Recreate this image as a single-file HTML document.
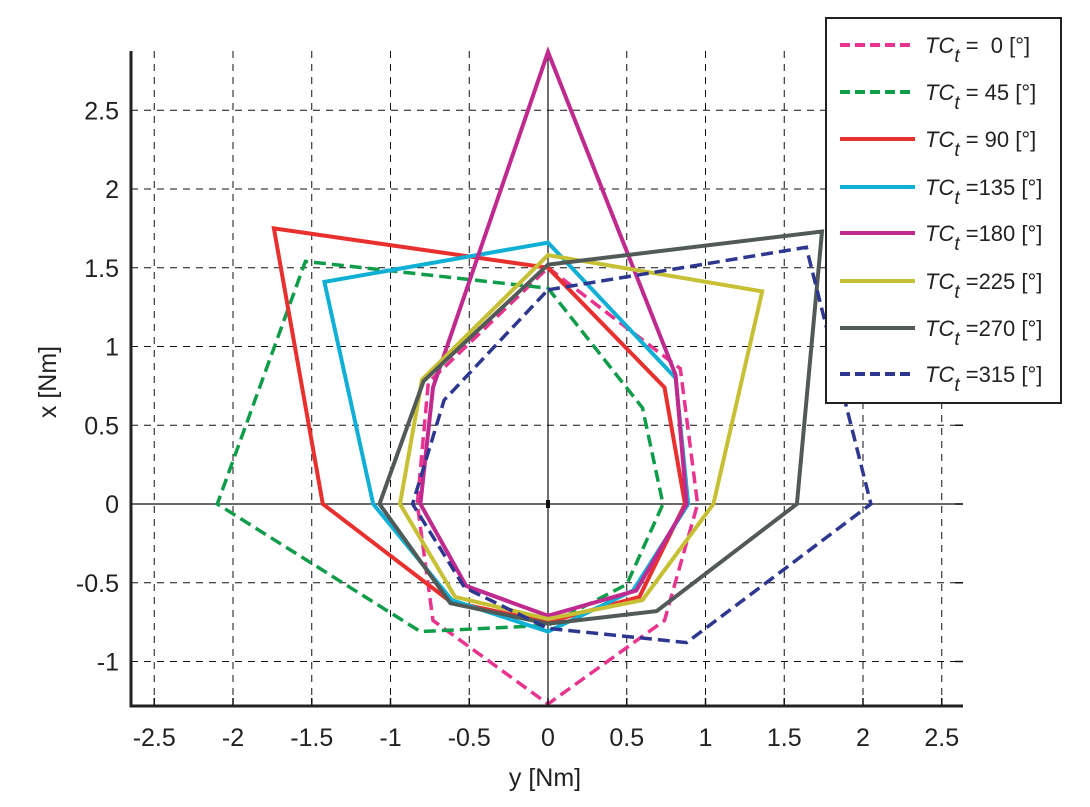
<!DOCTYPE html>
<html><head><meta charset="utf-8"><style>
body{margin:0;background:#fff;}
svg{display:block;font-family:"Liberation Sans",sans-serif;}
</style></head><body>
<svg id="chart" width="1090" height="807" viewBox="0 0 1090 807" xmlns="http://www.w3.org/2000/svg">
<g id="grid"></g>
<g id="series"></g>
<g id="axes"></g>
<text x="545" y="786" font-size="25" text-anchor="middle" fill="#222">y [Nm]</text>
<text transform="translate(56,382) rotate(-90)" font-size="25" text-anchor="middle" fill="#222">x [Nm]</text>
<g id="legend"></g>
</svg>
<script>
const xTicks=[-2.5,-2,-1.5,-1,-0.5,0,0.5,1,1.5,2,2.5];
const yTicks=[-1,-0.5,0,0.5,1,1.5,2,2.5];
const seriesNames=["0","45","90","135","180","225","270","315"];
const seriesColors=["#e8338f","#0f9d4a","#e8302e","#10afd6","#c02a8e","#c7c035","#525a58","#2e3790"];
const seriesDashed=[true,true,false,false,false,false,false,true];
// each series: [y,x] points, order top, upper-right, right, lower-right, bottom, lower-left, left, upper-left
const s0=[[0,1.5],[0.84,0.86],[0.95,0],[0.74,-0.74],[0,-1.27],[-0.73,-0.74],[-0.83,0],[-0.76,0.77]];
const s45=[[0,1.37],[0.6,0.61],[0.73,0],[0.5,-0.51],[0,-0.77],[-0.81,-0.81],[-2.1,0],[-1.54,1.54]];
const s90=[[0,1.5],[0.74,0.74],[0.87,0],[0.58,-0.59],[0,-0.75],[-0.62,-0.62],[-1.43,0],[-1.74,1.75]];
const s135=[[0,1.66],[0.81,0.8],[0.89,0],[0.54,-0.55],[0,-0.81],[-0.61,-0.61],[-1.11,0],[-1.42,1.41]];
const s180=[[0,2.87],[0.81,0.82],[0.88,0],[0.56,-0.55],[0,-0.71],[-0.52,-0.52],[-0.81,0],[-0.73,0.74]];
const s225=[[0,1.58],[1.36,1.35],[1.05,0],[0.6,-0.61],[0,-0.73],[-0.59,-0.59],[-0.94,0],[-0.8,0.79]];
const s270=[[0,1.52],[1.74,1.73],[1.58,0],[0.69,-0.68],[0,-0.76],[-0.62,-0.63],[-1.07,0],[-0.79,0.78]];
const s315=[[0,1.36],[1.64,1.63],[2.05,0],[0.88,-0.88],[0,-0.79],[-0.53,-0.53],[-0.86,0],[-0.66,0.66]];
const seriesData=[s0,s45,s90,s135,s180,s225,s270,s315];

const NS="http://www.w3.org/2000/svg";
const L=131,R=963,T=51,B=706;
const sx=v=>548+v*157.5, sy=v=>504-v*157.5;
function mk(tag,parent,attrs){const e=document.createElementNS(NS,tag);for(const k in attrs)e.setAttribute(k,attrs[k]);parent.appendChild(e);return e;}
const grid=document.getElementById('grid'),axes=document.getElementById('axes'),ser=document.getElementById('series'),leg=document.getElementById('legend');
xTicks.forEach(t=>{
  const x=sx(t);
  const g=mk('line',grid,{x1:x,x2:x,y1:T,y2:B,stroke:'#111','stroke-width':t===0?1.2:1,'stroke-dasharray':t===0?'none':'7,6'});
  
  
  const tk=mk('line',axes,{x1:x,x2:x,y1:B,y2:B-8,stroke:'#111','stroke-width':1.5});
  
  
  const lb=mk('text',axes,{x:x,y:746,'font-size':25,'text-anchor':'middle',fill:'#222'});
  lb.textContent=String(t);
  
  
});
yTicks.forEach(t=>{
  const y=sy(t);
  const g=mk('line',grid,{x1:L,x2:R,y1:y,y2:y,stroke:'#111','stroke-width':t===0?1.2:1,'stroke-dasharray':t===0?'none':'7,6'});
  
  
  const tk=mk('line',axes,{x1:R-8,x2:R,y1:y,y2:y,stroke:'#111','stroke-width':1.5});
  
  
  const lb=mk('text',axes,{x:119,y:y+9,'font-size':25,'text-anchor':'end',fill:'#222'});
  lb.textContent=String(t);
  
  
});
const ax=mk('path',axes,{d:`M${L},${T}V${B}H${R}`,fill:'none',stroke:'#222','stroke-width':3});


const org=mk('rect',axes,{x:546,y:500,width:4,height:8,fill:'#111'});



seriesData.forEach((pts,i)=>{
  const d=pts.map((p,j)=>(j?'L':'M')+sx(p[0]).toFixed(1)+','+sy(p[1]).toFixed(1)).join('')+'Z';
  const p=mk('path',ser,{d:d,fill:'none',stroke:seriesColors[i],'stroke-width':seriesDashed[i]?3.5:4,'stroke-dasharray':seriesDashed[i]?'12,6':'none','stroke-linejoin':'miter'});
  
  
});

const box=mk('rect',leg,{x:826,y:18,width:235,height:385,fill:'#fff',stroke:'#222','stroke-width':2});


const rowY=[45,92,139,187,233,281,328,374];
seriesNames.forEach((n,i)=>{
  const y=rowY[i];
  const ln=mk('line',leg,{x1:840,x2:915,y1:y,y2:y,stroke:seriesColors[i],'stroke-width':4,'stroke-dasharray':seriesDashed[i]?'10,5':'none'});
  
  
  const tx=mk('text',leg,{x:925,y:y+8,'font-size':22,fill:'#222'});
  const lbl=n.length===1?'=  '+n:(n.length===2?'= '+n:'='+n);
  tx.innerHTML='<tspan font-style="italic">TC</tspan><tspan font-style="italic" font-size="19" dy="9">t</tspan><tspan dy="-9" xml:space="preserve"> '+lbl+' [°]</tspan>';
  tx.setAttribute('xml:space','preserve');
  
  
});
</script>
</body></html>
